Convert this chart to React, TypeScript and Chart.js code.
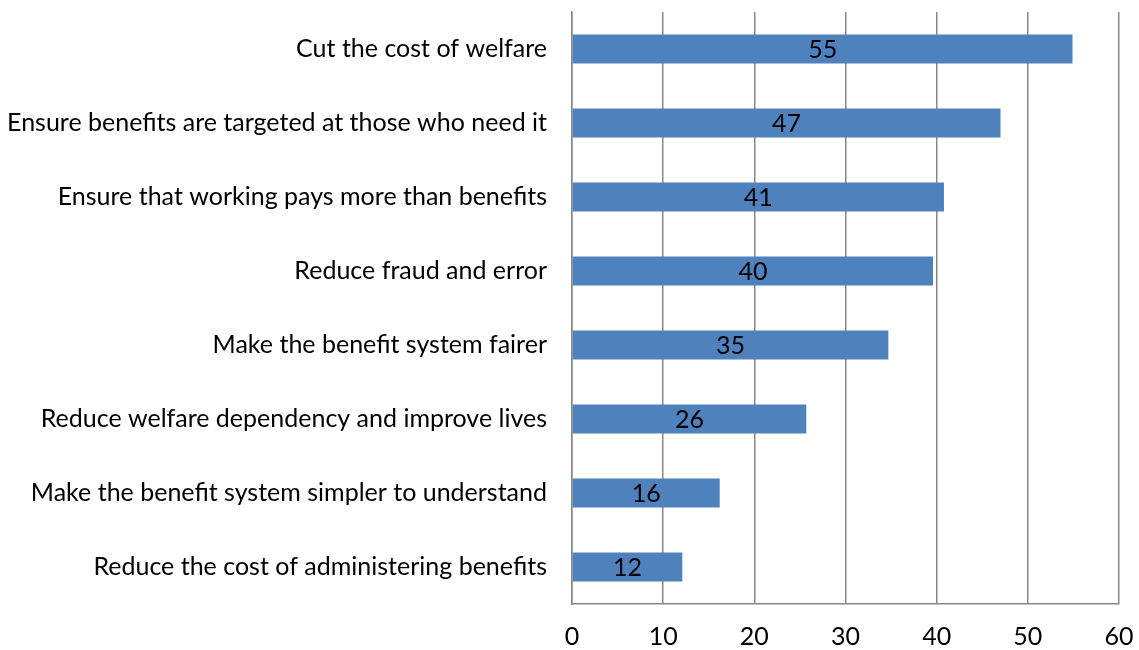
import React, { useEffect, useRef } from "react";
import { Chart, registerables } from "chart.js";

Chart.register(...registerables);

const categories = [
  "Cut the cost of welfare",
  "Ensure benefits are targeted at those who need it",
  "Ensure that working pays more than benefits",
  "Reduce fraud and error",
  "Make the benefit system fairer",
  "Reduce welfare dependency and improve lives",
  "Make the benefit system simpler to understand",
  "Reduce the cost of administering benefits",
];
const values = [54.9, 47.0, 40.8, 39.6, 34.7, 25.7, 16.2, 12.1];
const valueLabels = ["55", "47", "41", "40", "35", "26", "16", "12"];
const xMin = 0;
const xMax = 60;
const xStep = 10;

const FONT = "Lato, 'Open Sans', sans-serif";
const FONT_SIZE = 25;

const barLabelPlugin = {
  id: "barLabels",
  afterDatasetsDraw(chart: any) {
    const ctx = chart.ctx;
    const meta = chart.getDatasetMeta(0);
    ctx.save();
    ctx.font = `${FONT_SIZE}px ${FONT}`;
    ctx.fillStyle = "#000";
    ctx.textAlign = "center";
    ctx.textBaseline = "middle";
    meta.data.forEach((bar: any, i: number) => {
      const p = bar.getProps(["x", "y", "base"], true);
      const cx = (p.x + p.base) / 2;
      ctx.fillText(valueLabels[i], cx, p.y + 1);
    });
    ctx.restore();
  },
};

export default function App() {
  const ref = useRef<HTMLCanvasElement | null>(null);
  useEffect(() => {
    document.body.style.margin = "0";
    const chart = new Chart(ref.current!, {
      type: "bar",
      data: {
        labels: categories,
        datasets: [
          {
            data: values,
            backgroundColor: "#4F81BD",
            borderWidth: 0,
            barPercentage: 0.39,
            categoryPercentage: 1,
          },
        ],
      },
      options: {
        indexAxis: "y",
        responsive: false,
        animation: false,
        layout: { padding: { top: 12, right: 20, left: 0, bottom: 0 } },
        plugins: { legend: { display: false }, tooltip: { enabled: false } },
        scales: {
          x: {
            min: xMin,
            max: xMax,
            ticks: {
              stepSize: xStep,
              color: "#000",
              font: { family: FONT, size: FONT_SIZE },
              padding: 18,
            },
            grid: { color: "#878787", lineWidth: 1.5, drawTicks: false },
            border: { display: true, color: "#878787", width: 1.5 },
            afterFit(scale: any) {
              scale.height = 46;
              scale.paddingLeft = 0;
              scale.paddingRight = 0;
            },
          },
          y: {
            ticks: {
              color: "#000",
              font: { family: FONT, size: FONT_SIZE },
              padding: 25,
            },
            grid: { display: false, drawTicks: false },
            border: { display: true, color: "#878787", width: 1.5 },
            afterFit(scale: any) {
              scale.width = 572;
              scale.paddingTop = 0;
              scale.paddingBottom = 0;
            },
          },
        },
      },
      plugins: [barLabelPlugin],
    });
    return () => chart.destroy();
  }, []);
  return (
    <div style={{ width: 1139, height: 650 }}>
      <canvas ref={ref} width={1139} height={650} />
    </div>
  );
}
